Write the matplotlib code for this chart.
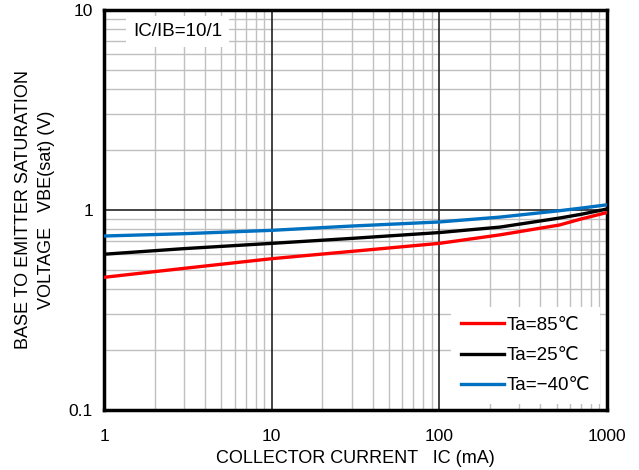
import numpy as np
import matplotlib.pyplot as plt
from matplotlib.ticker import FixedLocator, NullFormatter

# collector current (mA)
ic = [1, 3, 10, 30, 100, 230, 520, 700, 1000]

# VBE(sat) (V) at each ambient temperature
vbe_85 = [0.46, 0.51, 0.57, 0.62, 0.68, 0.75, 0.84, 0.90, 0.97]
vbe_25 = [0.60, 0.64, 0.68, 0.72, 0.77, 0.82, 0.91, 0.95, 1.01]
vbe_m40 = [0.74, 0.76, 0.79, 0.83, 0.87, 0.92, 0.99, 1.02, 1.06]

x_ticks = [1, 10, 100, 1000]
x_ticklabels = ["1", "10", "100", "1000"]
y_ticks = [0.1, 1, 10]
y_ticklabels = ["0.1", "1", "10"]

plt.rcParams['font.family'] = ['Liberation Sans', 'DejaVu Sans']

fig = plt.figure(figsize=(6.39, 4.70), dpi=100)
ax = fig.add_axes([0.163, 0.128, 0.787, 0.851])
ax.set_xscale('log')
ax.set_yscale('log')
ax.set_xlim(1, 1000)
ax.set_ylim(0.1, 10)

# grid: grey minor lines, dark decade lines
minor_x = [m * d for d in (1, 10, 100) for m in range(2, 10)]
minor_y = [m * d for d in (0.1, 1) for m in range(2, 10)]
for v in minor_x:
    ax.axvline(v, color='#c0c0c0', lw=1.0, zorder=0)
for v in minor_y:
    ax.axhline(v, color='#c0c0c0', lw=1.0, zorder=0)
for v in (10, 100):
    ax.axvline(v, color='#222222', lw=1.2, zorder=0.5)
ax.axhline(1, color='#222222', lw=1.2, zorder=0.5)

ax.plot(ic, vbe_85, color='#ff0000', lw=2.4, label='Ta=85℃', zorder=3)
ax.plot(ic, vbe_25, color='#000000', lw=2.4, label='Ta=25℃', zorder=3)
ax.plot(ic, vbe_m40, color='#0070c0', lw=2.4, label='Ta=\u221240℃', zorder=3)

ax.xaxis.set_major_locator(FixedLocator(x_ticks))
ax.set_xticklabels(x_ticklabels)
ax.yaxis.set_major_locator(FixedLocator(y_ticks))
ax.set_yticklabels(y_ticklabels)
ax.xaxis.set_minor_formatter(NullFormatter())
ax.yaxis.set_minor_formatter(NullFormatter())
ax.tick_params(which='both', length=0, labelsize=12.5)
ax.tick_params(axis='x', pad=14)
ax.tick_params(axis='y', pad=8)

for s in ax.spines.values():
    s.set_linewidth(2.5)

ax.set_xlabel("COLLECTOR CURRENT   IC (mA)", fontsize=13, labelpad=4)
ax.set_ylabel("BASE TO EMITTER SATURATION\nVOLTAGE   VBE(sat) (V)", fontsize=13,
              labelpad=10, linespacing=1.45)

ax.text(0.057, 0.945, "IC/IB=10/1", transform=ax.transAxes, fontsize=13.5,
        va='center', ha='left', zorder=4,
        bbox=dict(facecolor='white', edgecolor='none', pad=5))

leg = ax.legend(loc='lower right', bbox_to_anchor=(0.985, 0.015), fontsize=13.5,
                frameon=True, fancybox=False, handlelength=2.3,
                handletextpad=0.15, labelspacing=0.7, borderaxespad=0.0,
                borderpad=0.5)
leg.get_frame().set_edgecolor('none')
leg.get_frame().set_facecolor('white')
leg.get_frame().set_alpha(1)

fig.savefig('out.png', dpi=100)
